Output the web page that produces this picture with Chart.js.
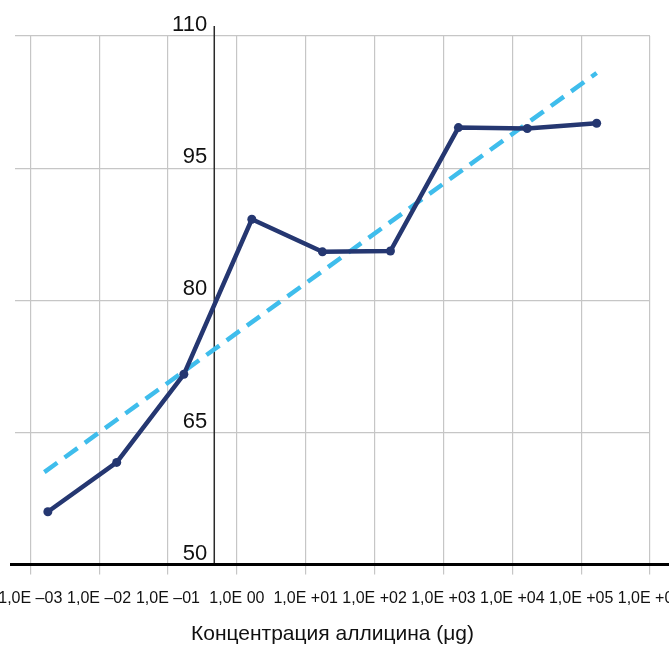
<!DOCTYPE html>
<html>
<head>
<meta charset="utf-8">
<script src="https://cdn.jsdelivr.net/npm/chart.js@4.4.0/dist/chart.umd.min.js"></script>
<style>
  html, body { margin: 0; padding: 0; background: #fff; }
  #wrap { width: 669px; height: 649px; }
</style>
</head>
<body>
<div id="wrap"><canvas id="allicinChart" width="669" height="649"></canvas></div>
<script>
// values
const concentrations = [0.0018, 0.018, 0.17, 1.65, 17.5, 170, 1650, 16500, 168000];
const responseValues = [56.0, 61.6, 71.6, 89.2, 85.5, 85.6, 99.6, 99.5, 100.1];
const trendX = [0.0016, 168000];
const trendValues = [60.5, 105.8];
const tickExponents = [-3, -2, -1, 0, 1, 2, 3, 4, 5, 6];
const tickLabels = ['1,0E –03', '1,0E –02', '1,0E –01', '1,0E 00', '1,0E +01',
                    '1,0E +02', '1,0E +03', '1,0E +04', '1,0E +05', '1,0E +06'];
const yTickValues = [50, 65, 80, 95, 110];
const xAxisTitle = 'Концентрация аллицина (μg)';

const NAVY = '#253771';
const SKY = '#3fbdec';
const GRID = '#c6c6c6';
const FONT = "'Liberation Sans', Arial, sans-serif";

// black x axis + y axis line, a bit longer than the plot area
const axisLines = {
    id: 'axisLines',
    beforeDatasetsDraw(chart) {
        const ctx = chart.ctx;
        const xs = chart.scales.x;
        const ys = chart.scales.y;
        const yAxisX = xs.getPixelForValue(0.47);
        const bottom = ys.getPixelForValue(50);
        ctx.save();
        ctx.strokeStyle = '#2a2a2a';
        ctx.lineWidth = 1.5;
        ctx.beginPath();
        ctx.moveTo(yAxisX, chart.chartArea.top - 10);
        ctx.lineTo(yAxisX, bottom);
        ctx.stroke();
        ctx.strokeStyle = '#000';
        ctx.lineWidth = 3;
        ctx.beginPath();
        ctx.moveTo(10, bottom);
        ctx.lineTo(chart.width, bottom);
        ctx.stroke();
        ctx.restore();
    }
};

const ctx = document.getElementById('allicinChart').getContext('2d');
new Chart(ctx, {
    type: 'line',
    data: {
        datasets: [{
            data: concentrations.map((c, i) => ({ x: c, y: responseValues[i] })),
            borderColor: NAVY,
            backgroundColor: NAVY,
            borderWidth: 4.5,
            pointRadius: 4.5,
            pointBorderWidth: 0,
            tension: 0
        }, {
            data: trendX.map((c, i) => ({ x: c, y: trendValues[i] })),
            borderColor: SKY,
            borderWidth: 4.5,
            borderDash: [16, 9],
            borderCapStyle: 'butt',
            pointRadius: 0,
            tension: 0
        }]
    },
    options: {
        responsive: false,
        animation: false,
        layout: { padding: { top: 36, left: 15, right: 19, bottom: 2 } },
        scales: {
            x: {
                type: 'logarithmic',
                min: Math.pow(10, -3.189),
                max: 1e6,
                border: { display: false },
                grid: { color: GRID, lineWidth: 1.2, drawTicks: true, tickLength: 10, tickColor: GRID },
                afterBuildTicks: scale => {
                    scale.ticks = tickExponents.map(e => ({ value: Math.pow(10, e) }));
                },
                afterFit: scale => {
                    scale.paddingLeft = 0;
                    scale.paddingRight = 0;
                },
                ticks: {
                    autoSkip: false,
                    maxRotation: 0,
                    padding: 14,
                    color: '#111',
                    font: { family: FONT, size: 16 },
                    callback: value => tickLabels[tickExponents.indexOf(Math.round(Math.log10(value)))]
                },
                title: {
                    display: true,
                    text: xAxisTitle,
                    color: '#111',
                    font: { family: FONT, size: 21 },
                    padding: { top: 0, bottom: 0 }
                }
            },
            y: {
                position: { x: 0.37 },
                min: 50,
                max: 110,
                border: { display: false },
                grid: { color: GRID, lineWidth: 1.2, drawTicks: false },
                afterBuildTicks: scale => {
                    scale.ticks = yTickValues.map(v => ({ value: v }));
                },
                ticks: {
                    padding: 0,
                    labelOffset: -11,
                    color: '#111',
                    font: { family: FONT, size: 22 }
                }
            }
        },
        plugins: {
            legend: { display: false },
            tooltip: { enabled: false }
        }
    },
    plugins: [axisLines]
});
</script>
</body>
</html>
